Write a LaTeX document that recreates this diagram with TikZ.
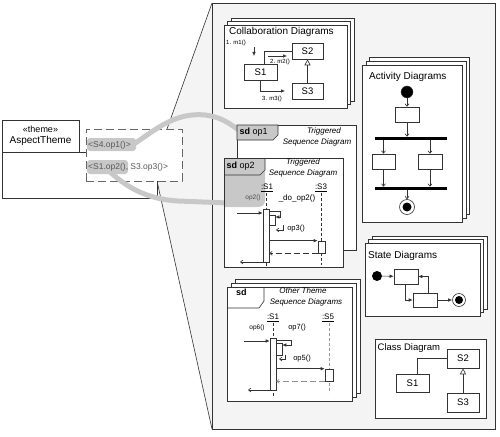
\documentclass[tikz,border=0pt]{standalone}
\usepackage{fontspec}
\setmainfont{Liberation Sans}
\usetikzlibrary{arrows.meta,calc}
\definecolor{hl}{HTML}{C8C8C8}
\definecolor{panelc}{HTML}{F4F4F4}
\definecolor{lnc}{HTML}{333333}
\newcommand\fsz[1]{\fontsize{#1}{#1}\selectfont}
\newcommand\pagestack[5]{%
  \draw[page] (#1+2*#5,#2-2*#5) rectangle (#3+2*#5,#4-2*#5);
  \draw[page] (#1+#5,#2-#5) rectangle (#3+#5,#4-#5);
  \draw[page] (#1,#2) rectangle (#3,#4);}
\begin{document}
\begin{tikzpicture}[x=1pt,y=-1pt,
  page/.style={draw=lnc, fill=white, line width=0.6pt},
  box/.style={draw=lnc, fill=white, line width=0.6pt, inner sep=0pt, font=\fsz{9.5}},
  lnk/.style={draw=lnc, line width=0.6pt},
  fa/.style={-{Latex[length=4pt,width=3.5pt]}},
  oa/.style={-{Straight Barb[length=2.5pt,width=4pt]}},
  lbl/.style={inner sep=0pt, font=\fsz{6.5}},
  ttl/.style={inner sep=0pt, anchor=west, font=\fsz{10}},
  itl/.style={inner sep=0pt, font=\fsz{8}\itshape},
  life/.style={draw=lnc, line width=0.6pt, dash pattern=on 3pt off 2pt},
  act/.style={draw=lnc, fill=white, line width=0.6pt, inner sep=0pt}]
\useasboundingbox (0,0) rectangle (500,436);

% funnel and panel
\fill[panelc] (167,129) -- (212,3) -- (212,429) -- (157,181) -- cycle;
\draw[lnk] (167,129) -- (212,3);
\draw[lnk] (157,181) -- (212,429);
\node[draw=lnc, fill=panelc, line width=0.6pt, minimum width=283pt, minimum height=426pt, inner sep=0pt] (panel) at (353.5,216) {};

% theme class
\draw[lnk, fill=white] (2,152) rectangle (157,198);
\node[draw=lnc, fill=white, line width=0.6pt, minimum width=77pt, minimum height=32pt, inner sep=0pt, align=center, font=\fsz{10}] (theme) at (40.5,136) {{\fsz{9}«theme»}\\[1pt]AspectTheme};
\node[draw=black!60, line width=0.8pt, dash pattern=on 8pt off 4pt, fill=white, minimum width=96pt, minimum height=52pt, inner sep=0pt] (tmpl) at (134,155) {};
\fill[hl, rounded corners=3pt] (87,138) rectangle (136,151);
\fill[hl, rounded corners=3pt] (87,160) rectangle (128,174);

% highlight curves
\draw[hl, line width=5pt, line cap=round] (134,144) .. controls (155,130) and (175,112) .. (205,115) .. controls (222,117) and (230,124) .. (240,131);
\draw[hl, line width=5pt, line cap=round] (108,170) .. controls (125,186) and (145,199) .. (178,201) -- (228,203);

\node[anchor=west, inner sep=0pt, font=\fsz{8.5}, text=black!65] (p1) at (88,145) {<S4.op1()>};
\node[anchor=west, inner sep=0pt, font=\fsz{8.5}, text=black!65] (p2) at (88,167) {<S1.op2(), S3.op3()>};

% ---------- Collaboration diagrams
\pagestack{224}{25}{347}{108}{3.5}
\node[ttl] (collT) at (229,32) {Collaboration Diagrams};
\node[lbl, anchor=west, font=\fsz{6}] (m1) at (226,43) {1. m1()};
\node[box, minimum width=33pt, minimum height=16pt] (cs1) at (260.5,72) {S1};
\node[box, minimum width=31pt, minimum height=16pt] (cs2) at (307.5,51) {S2};
\node[box, minimum width=31pt, minimum height=16pt] (cs3) at (307.5,91) {S3};
\draw[lnk] ($(cs1.north)+(3.5,0)$) |- (cs2.west);
\draw[lnk, -{Triangle[open,length=6pt,width=6pt]}] (cs3.north) -- (cs2.south);
\coordinate (m1a) at (254,47); \coordinate (m1b) at (254,56);
\draw[lnk, fa] (m1a) -- (m1b);
\coordinate (m2a) at (268,56); \coordinate (m2b) at (287,56);
\draw[lnk, fa] (m2a) -- (m2b);
\node[lbl, font=\fsz{6}] (m2) at (280,61.5) {2. m2()};
\coordinate (m3b) at (285,91);
\draw[lnk, fa] (cs1.south) |- (m3b);
\node[lbl, font=\fsz{6}] (m3) at (272,98.5) {3. m3()};

% ---------- Activity diagrams
\pagestack{362}{65}{462}{222}{3.8}
\node[ttl] (actT) at (369,77) {Activity Diagrams};
\node[circle, fill=black, draw=lnc, minimum size=12pt, inner sep=0pt] (ast) at (407,92) {};
\node[box, minimum width=24pt, minimum height=15pt] (ab1) at (407,114.5) {};
\node[fill=black, minimum width=72pt, minimum height=2.8pt, inner sep=0pt] (bar1) at (411,138.3) {};
\node[box, minimum width=23pt, minimum height=15pt] (ab2) at (383.5,161.5) {};
\node[box, minimum width=24pt, minimum height=15pt] (ab3) at (430,161.5) {};
\node[fill=black, minimum width=72pt, minimum height=2.8pt, inner sep=0pt] (bar2) at (411,188.3) {};
\node[circle, draw=lnc, fill=white, line width=0.6pt, minimum size=15pt, inner sep=0pt] (aend) at (407,207) {};
\node[circle, fill=black, minimum size=9pt, inner sep=0pt] (aendi) at (407,207) {};
\draw[lnk, oa] (ast) -- (ab1);
\draw[lnk, oa] (ab1) -- (ab1 |- bar1.north);
\draw[lnk, oa] (ab2 |- bar1.south) -- (ab2);
\draw[lnk, oa] (ab3 |- bar1.south) -- (ab3);
\draw[lnk, oa] (ab2) -- (ab2 |- bar2.north);
\draw[lnk, oa] (ab3) -- (ab3 |- bar2.north);
\draw[lnk, oa] (aend |- bar2.south) -- (aend);

% ---------- Triggered sequence diagrams
\draw[page] (237,125) rectangle (356,250);
\filldraw[fill=hl, draw=lnc, line width=0.6pt] (237,125) -- (278,125) -- (278,135) -- (273,140) -- (237,140) -- cycle;
\node[anchor=west, inner sep=0pt, font=\fsz{9}] (sd1) at (239.5,132) {\textbf{sd} op1};
\node[itl] (tr1) at (324,131) {Triggered};
\node[itl] (sq1) at (317,142.5) {Sequence Diagram};

\fill[white] (224,158) rectangle (343,267);
\fill[hl] (224,158) -- (265,158) -- (265,199) .. controls (265,206) and (262,207) .. (256,207) -- (224,207) -- cycle;
\draw[lnk] (224,158) rectangle (343,267);
\draw[lnk] (265,158) -- (265,170) -- (260,175) -- (224,175);
\node[anchor=west, inner sep=0pt, font=\fsz{9}] (sd2) at (226.5,166) {\textbf{sd} op2};
\node[itl] (tr2) at (303,162) {Triggered};
\node[itl] (sq2) at (303,173.5) {Sequence Diagram};
\node[inner sep=0pt, font=\fsz{8}] (l1) at (267,188) {\underline{:S1}};
\node[inner sep=0pt, font=\fsz{8}] (l3) at (321,188) {\underline{:S3}};
\draw[life] (266,193) -- (266,268);
\draw[life] (321.5,193) -- (321.5,265);
\node[act, minimum width=6pt, minimum height=53pt] (a1) at (266,235.5) {};
\node[act, minimum width=6pt, minimum height=10pt] (a2) at (272,220) {};
\node[act, minimum width=7pt, minimum height=12pt] (a3) at (321.5,247) {};
\node[lbl, font=\fsz{6.5}, text=black!70] (op2) at (253,198) {op2()};
\node[lbl, font=\fsz{8}] (doop) at (297,198) {\_do\_op2()};
\coordinate (in1) at (237,213);
\draw[lnk, fa] (in1) -- (in1 -| a1.west);
\draw[lnk, fa] (a1.east |- 0,211) -- (280,211) -- (280,217) -- (a2.east |- 0,217);
\draw[lnk, oa] (283,225) -- (283,230) -- (276,230);
\node[lbl, font=\fsz{7.5}] (op3) at (296,229) {op3()};
\draw[lnk, fa] (a1.east |- a3.north) -- (a3.north west);
\draw[lnk, oa, dash pattern=on 6pt off 3pt] (a3.south west) -- (a1.east |- a3.south);
\coordinate (out1) at (240,262);
\draw[lnk, oa] (a1.west |- out1) -- (out1);

% ---------- Other theme sequence diagrams
\pagestack{227}{287}{352}{401}{4}
\draw[lnk] (264,287) -- (264,301) -- (259,308) -- (227,308);
\node[anchor=west, inner sep=0pt, font=\fsz{9}\bfseries] (sd3) at (236,292) {sd};
\node[itl] (ot) at (303,291) {Other Theme};
\node[itl] (sq3) at (306,302.5) {Sequence Diagrams};
\node[inner sep=0pt, font=\fsz{8}] (o1) at (273,318) {\underline{:S1}};
\node[inner sep=0pt, font=\fsz{8}] (o5) at (328,318) {\underline{:S5}};
\draw[life] (273,323) -- (273,396);
\draw[life, draw=black!40] (329,323) -- (329,393);
\node[act, minimum width=6pt, minimum height=52pt] (b1) at (273,364) {};
\node[act, minimum width=6pt, minimum height=12pt] (b2) at (279,349) {};
\node[act, minimum width=8pt, minimum height=12pt] (b3) at (329,375) {};
\node[lbl, font=\fsz{6.5}] (op6) at (257,328) {op6()};
\node[lbl, font=\fsz{7.5}] (op7) at (297,328) {op7()};
\coordinate (in2) at (244,341);
\draw[lnk, fa] (in2) -- (in2 -| b1.west);
\draw[lnk, fa] (b1.east |- 0,340) -- (291,340) -- (291,345) -- (b2.east |- 0,345);
\draw[lnk, oa] (285,355) -- (285,359) -- (279,359);
\node[lbl, font=\fsz{7.5}] (op5) at (302,358.5) {op5()};
\draw[lnk, fa] (b1.east |- b3.north) -- (b3.north west);
\draw[oa, draw=black!45, line width=0.6pt, dash pattern=on 6pt off 3pt] (b3.south west) -- (b1.east |- b3.south);
\coordinate (out2) at (248,390);
\draw[lnk, oa] (b1.west |- out2) -- (out2);

% ---------- State diagrams
\pagestack{365}{243}{480}{316}{3.5}
\node[ttl] (stT) at (368,256) {State Diagrams};
\node[circle, fill=black, minimum size=10pt, inner sep=0pt] (sst) at (377,276) {};
\node[box, minimum width=24pt, minimum height=15pt] (sb1) at (406,276.5) {};
\node[box, minimum width=24pt, minimum height=14pt] (sb2) at (425,300) {};
\node[circle, draw=lnc, fill=white, line width=0.6pt, minimum size=13pt, inner sep=0pt] (send) at (459,300) {};
\node[circle, fill=black, minimum size=8pt, inner sep=0pt] (sendi) at (459,300) {};
\draw[lnk, fa] (sst) -- (sb1);
\draw[lnk, fa] ($(sb1.south)+(-1,0)$) |- (sb2.west);
\draw[lnk, fa] ($(sb2.north)+(3,0)$) |- (sb1.east);
\draw[lnk, fa] (sb2) -- (send);

% ---------- Class diagram
\node[draw=lnc, fill=white, line width=0.6pt, minimum width=111pt, minimum height=79pt, inner sep=0pt] (cd) at (430.5,378.5) {};
\node[ttl, font=\fsz{9.5}] (cdT) at (377.5,348) {Class Diagram};
\node[box, minimum width=32pt, minimum height=19pt] (k2) at (463,358.5) {S2};
\node[box, minimum width=33pt, minimum height=18pt] (k1) at (412.5,383) {S1};
\node[box, minimum width=32pt, minimum height=19pt] (k3) at (463,402.5) {S3};
\draw[lnk] ($(k1.north)+(5,0)$) |- (k2.west);
\draw[lnk, -{Triangle[open,length=6pt,width=6pt]}] (k3.north) -- (k2.south);
\end{tikzpicture}
\end{document}
